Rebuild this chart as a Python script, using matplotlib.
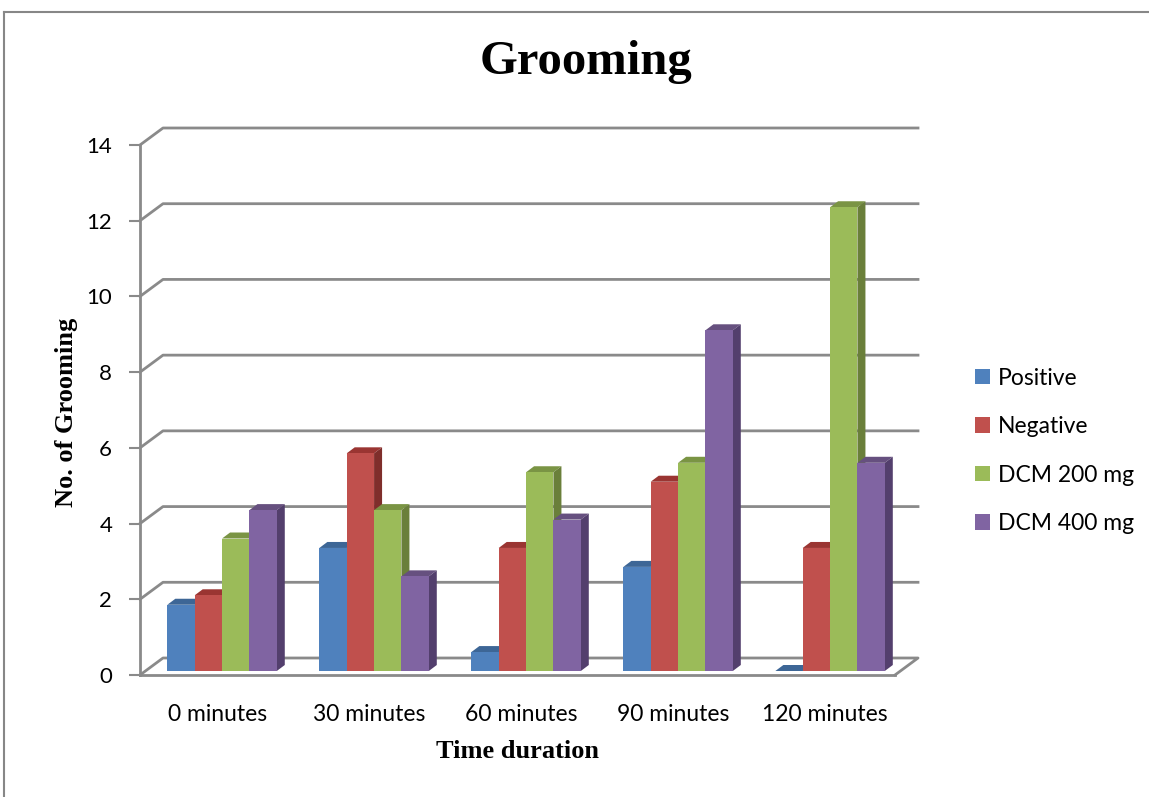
import matplotlib.pyplot as plt
import numpy as np
from matplotlib.patches import Polygon, Patch
from matplotlib.lines import Line2D
from matplotlib.transforms import IdentityTransform, offset_copy

# data
categories = ['0 minutes', '30 minutes', '60 minutes', '90 minutes', '120 minutes']
series = ['Positive', 'Negative', 'DCM 200 mg', 'DCM 400 mg']
positive = [1.75, 3.25, 0.5, 2.75, 0.0]
negative = [2.0, 5.75, 3.25, 5.0, 3.25]
dcm200 = [3.5, 4.25, 5.25, 5.5, 12.25]
dcm400 = [4.25, 2.5, 4.0, 9.0, 5.5]
yticks = [0, 2, 4, 6, 8, 10, 12, 14]

front_col = ['#4F81BD', '#C0504D', '#9BBB59', '#8064A2']
top_col = ['#3D6696', '#9A3532', '#7A9444', '#66507F']
side_col = ['#385D8A', '#7F2E2B', '#6A7F3A', '#533F6D']
grid_col = '#8A8A8A'

W, H = 1149, 797
fig = plt.figure(figsize=(W / 100, H / 100), dpi=100)
ax = fig.add_axes([140 / W, 122 / H, 755 / W, 530 / H])
ax.set_xlim(-0.507, 4.46)
ax.set_ylim(0, 14)
ax.set_facecolor('none')

# pixel offsets for the fake depth
wall = (23, 17)      # back wall relative to front plane
bar_off = (5, 4)     # bar front face relative to front plane
bar_d = (8, 6)       # bar depth


def px(x, y, dx=0, dy=0):
    X, Y = ax.transData.transform((x, y))
    return (X + dx, Y + dy)


# walls / gridlines
x0, x1 = ax.get_xlim()
for v in yticks:
    pts = [px(x0, v), px(x0, v, *wall), px(x1, v, *wall)]
    if v == 0:
        pts.append(px(x1, 0))
    xs, ys = zip(*pts)
    ax.add_line(Line2D(xs, ys, transform=IdentityTransform(), color=grid_col,
                       lw=2, zorder=1, clip_on=False))

# bars
x = np.arange(len(categories))
w = 0.18
bar_tr = offset_copy(ax.transData, fig=fig, x=bar_off[0], y=bar_off[1], units='dots')
for k, vals in enumerate([positive, negative, dcm200, dcm400]):
    xs = x + (k - 1.5) * w
    ax.bar(xs, vals, w, align='center', color=front_col[k], transform=bar_tr,
           zorder=4 + 2 * k, linewidth=0)
    for xc, h in zip(xs, vals):
        xl, xr = xc - w / 2, xc + w / 2
        fl = px(xl, h, *bar_off)
        fr = px(xr, h, *bar_off)
        br = px(xr, 0, *bar_off)
        d = np.array(bar_d)
        topf = [fl, fr, tuple(np.array(fr) + d), tuple(np.array(fl) + d)]
        sidef = [br, fr, tuple(np.array(fr) + d), tuple(np.array(br) + d)]
        ax.add_patch(Polygon(topf, closed=True, transform=IdentityTransform(),
                             facecolor=top_col[k], edgecolor='none', zorder=3 + 2 * k,
                             clip_on=False))
        ax.add_patch(Polygon(sidef, closed=True, transform=IdentityTransform(),
                             facecolor=side_col[k], edgecolor='none', zorder=3 + 2 * k,
                             clip_on=False))

ax.set_xlim(x0, x1)
ax.set_ylim(0, 14)

# axes styling
for s in ['top', 'right']:
    ax.spines[s].set_visible(False)
for s in ['left', 'bottom']:
    ax.spines[s].set_color(grid_col)
    ax.spines[s].set_linewidth(2)
    ax.spines[s].set_zorder(2)
ax.set_yticks(yticks)
ax.set_yticklabels([str(t) for t in yticks], fontsize=16, family='Lato')
ax.set_xticks(x)
ax.set_xticklabels(categories, fontsize=16.5, family='Lato')
ax.tick_params(axis='y', length=8, width=1.5, color=grid_col, pad=12)
ax.tick_params(axis='x', length=0, pad=21)

fig.text(0.5 * (483 + 688) / W, 1 - 62 / H, 'Grooming', ha='center', va='center',
         family='Liberation Serif', fontweight='bold', fontsize=35)
fig.text(67 / W, 1 - 412 / H, 'No. of Grooming', rotation=90, ha='center', va='center',
         family='Liberation Serif', fontweight='bold', fontsize=19)
fig.text(517 / W, 1 - 752 / H, 'Time duration', ha='center', va='center',
         family='Liberation Serif', fontweight='bold', fontsize=19)

handles = [Patch(facecolor=c, edgecolor='none') for c in front_col]
fig.legend(handles, series, loc='upper left', bbox_to_anchor=(954 / W, 1 - 347 / H),
           frameon=False, handlelength=0.65, handleheight=0.65, handletextpad=0.35,
           labelspacing=1.2, prop={'family': 'Lato', 'size': 16.5})

# outer chart border (top and left edges visible)
fig.add_artist(Line2D([4 / W, 1], [1 - 12 / H] * 2, transform=fig.transFigure,
                      color='#878787', lw=1.5))
fig.add_artist(Line2D([4 / W, 4 / W], [0, 1 - 12 / H], transform=fig.transFigure,
                      color='#878787', lw=1.5))

fig.savefig('out.png', dpi=100)
